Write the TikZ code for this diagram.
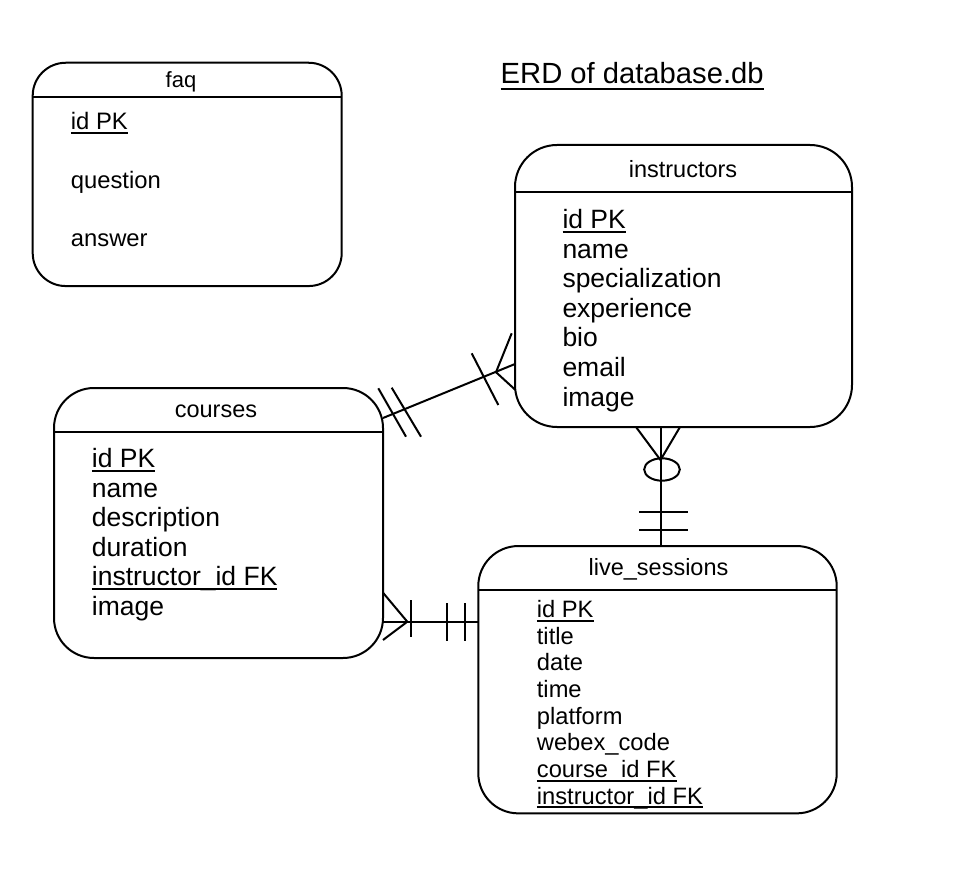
\documentclass[tikz,border=0pt]{standalone}
\usepackage{fontspec}
\setmainfont{Liberation Sans}
\usetikzlibrary{calc}
\newsavebox\ulbox
\newcommand\ulfield[1]{\sbox\ulbox{#1}\rlap{\rule[-4.2pt]{\wd\ulbox}{1.8pt}}\usebox\ulbox}
\newcommand\ultitle[1]{\sbox\ulbox{#1}\rlap{\rule[-6pt]{\wd\ulbox}{2pt}}\usebox\ulbox}
\tikzset{
  entity/.style={draw, line width=2pt, inner sep=0pt, outer sep=0pt},
  hdr/.style={line width=2pt},
  conn/.style={line width=2pt},
  tickmk/.style={line width=2pt},
  ttl/.style={anchor=base, inner sep=0pt, font=\fontsize{23.5}{28}\selectfont},
  fbig/.style={anchor=base west, inner sep=0pt, font=\fontsize{26.5}{30}\selectfont},
  fmid/.style={anchor=base west, inner sep=0pt, font=\fontsize{23.8}{28}\selectfont},
  fsmall/.style={anchor=base west, inner sep=0pt, font=\fontsize{23.7}{27}\selectfont},
}
\begin{document}
\begin{tikzpicture}[x=1pt,y=-1pt]
\useasboundingbox (0,0) rectangle (980,893);

% title
\node[anchor=base west, inner sep=0pt, font=\fontsize{29.2}{33}\selectfont] (erd) at (500.5,84) {\ultitle{ERD of database.db}};

% faq
\node[entity, rounded corners=33pt, minimum width=309pt, minimum height=223.3pt] (faq) at (187.2,174.4) {};
\draw[hdr] ([yshift=-34pt]faq.north west) -- ([yshift=-34pt]faq.north east);
\node[ttl, font=\fontsize{22}{26}\selectfont] (faqt) at (181,87.3) {faq};
\node[fmid] (faq1) at (70.7,130) {\ulfield{id PK}};
\node[fmid] (faq2) at (70.7,188.3) {question};
\node[fmid] (faq3) at (70.7,246.7) {answer};

% instructors
\node[entity, rounded corners=42pt, minimum width=337pt, minimum height=282pt] (instructors) at (683.5,286) {};
\draw[hdr] ([yshift=-47pt]instructors.north west) -- ([yshift=-47pt]instructors.north east);
\node[ttl] (inst) at (683,177.7) {instructors};
\node[fbig] (in1) at (562.3,229) {\ulfield{id PK}};
\node[fbig] (in2) at (562.3,258.5) {name};
\node[fbig] (in3) at (562.3,288) {specialization};
\node[fbig] (in4) at (562.3,317.5) {experience};
\node[fbig] (in5) at (562.3,347) {bio};
\node[fbig] (in6) at (562.3,376.5) {email};
\node[fbig] (in7) at (562.3,406) {image};

% courses
\node[entity, rounded corners=40pt, minimum width=329pt, minimum height=270pt] (courses) at (218.5,523) {};
\draw[hdr] ([yshift=-44pt]courses.north west) -- ([yshift=-44pt]courses.north east);
\node[ttl] (cot) at (216,417.3) {courses};
\node[fbig] (co1) at (91.7,467.5) {\ulfield{id PK}};
\node[fbig] (co2) at (91.7,497) {name};
\node[fbig] (co3) at (91.7,526.5) {description};
\node[fbig] (co4) at (91.7,556) {duration};
\node[fbig] (co5) at (91.7,585.5) {\ulfield{instructor\_id FK}};
\node[fbig] (co6) at (91.7,615) {image};

% live_sessions
\node[entity, rounded corners=40pt, minimum width=358.4pt, minimum height=267.3pt] (live) at (657.5,679.7) {};
\draw[hdr] ([yshift=-44pt]live.north west) -- ([yshift=-44pt]live.north east);
\node[ttl] (livt) at (658.5,575) {live\_sessions};
\node[fsmall] (li1) at (536.7,617.5) {\ulfield{id PK}};
\node[fsmall] (li2) at (536.7,644) {title};
\node[fsmall] (li3) at (536.7,670.7) {date};
\node[fsmall] (li4) at (536.7,697.3) {time};
\node[fsmall] (li5) at (536.7,724) {platform};
\node[fsmall] (li6) at (536.7,750.7) {webex\_code};
\node[fsmall] (li7) at (536.7,777.3) {\ulfield{course\_id FK}};
\node[fsmall] (li8) at (536.7,804) {\ulfield{instructor\_id FK}};

% courses -- instructors
\coordinate (ci1) at ($(courses.north east)+(0,30)$);
\coordinate (ci2) at ($(instructors.west)+(0,78)$);
\draw[conn] (ci1) -- (ci2);
\draw[tickmk] (511.7,333.3) -- (496,372.2) -- (515.5,390);
\draw[tickmk] (471.7,353.3) -- (498.3,405);
\draw[tickmk] (378.3,388.3) -- (406,436.7);
\draw[tickmk] (391.7,387.7) -- (421,436.7);

% instructors -- live_sessions
\coordinate (il1) at ($(instructors.south)+(-23,0)$);
\draw[conn] (il1) -- (il1 |- live.north);
\draw[tickmk] (636,427) -- (660.5,460) -- (680,427);
\draw[tickmk] (662,469.5) ellipse [x radius=17.8, y radius=11.2];
\draw[tickmk] (639.3,512) -- (688.3,512);
\draw[tickmk] (639.3,530.3) -- (688.3,530.3);

% courses -- live_sessions
\coordinate (cl1) at ($(courses.east)+(0,99)$);
\draw[conn] (cl1) -- (cl1 -| live.west);
\draw[tickmk] (383,592.7) -- (407.3,621.7) -- (383,640);
\draw[tickmk] (410.7,600) -- (410.7,636.7);
\draw[tickmk] (447.3,603.3) -- (447.3,640.7);
\draw[tickmk] (465,603.3) -- (465,640.7);
\end{tikzpicture}
\end{document}
